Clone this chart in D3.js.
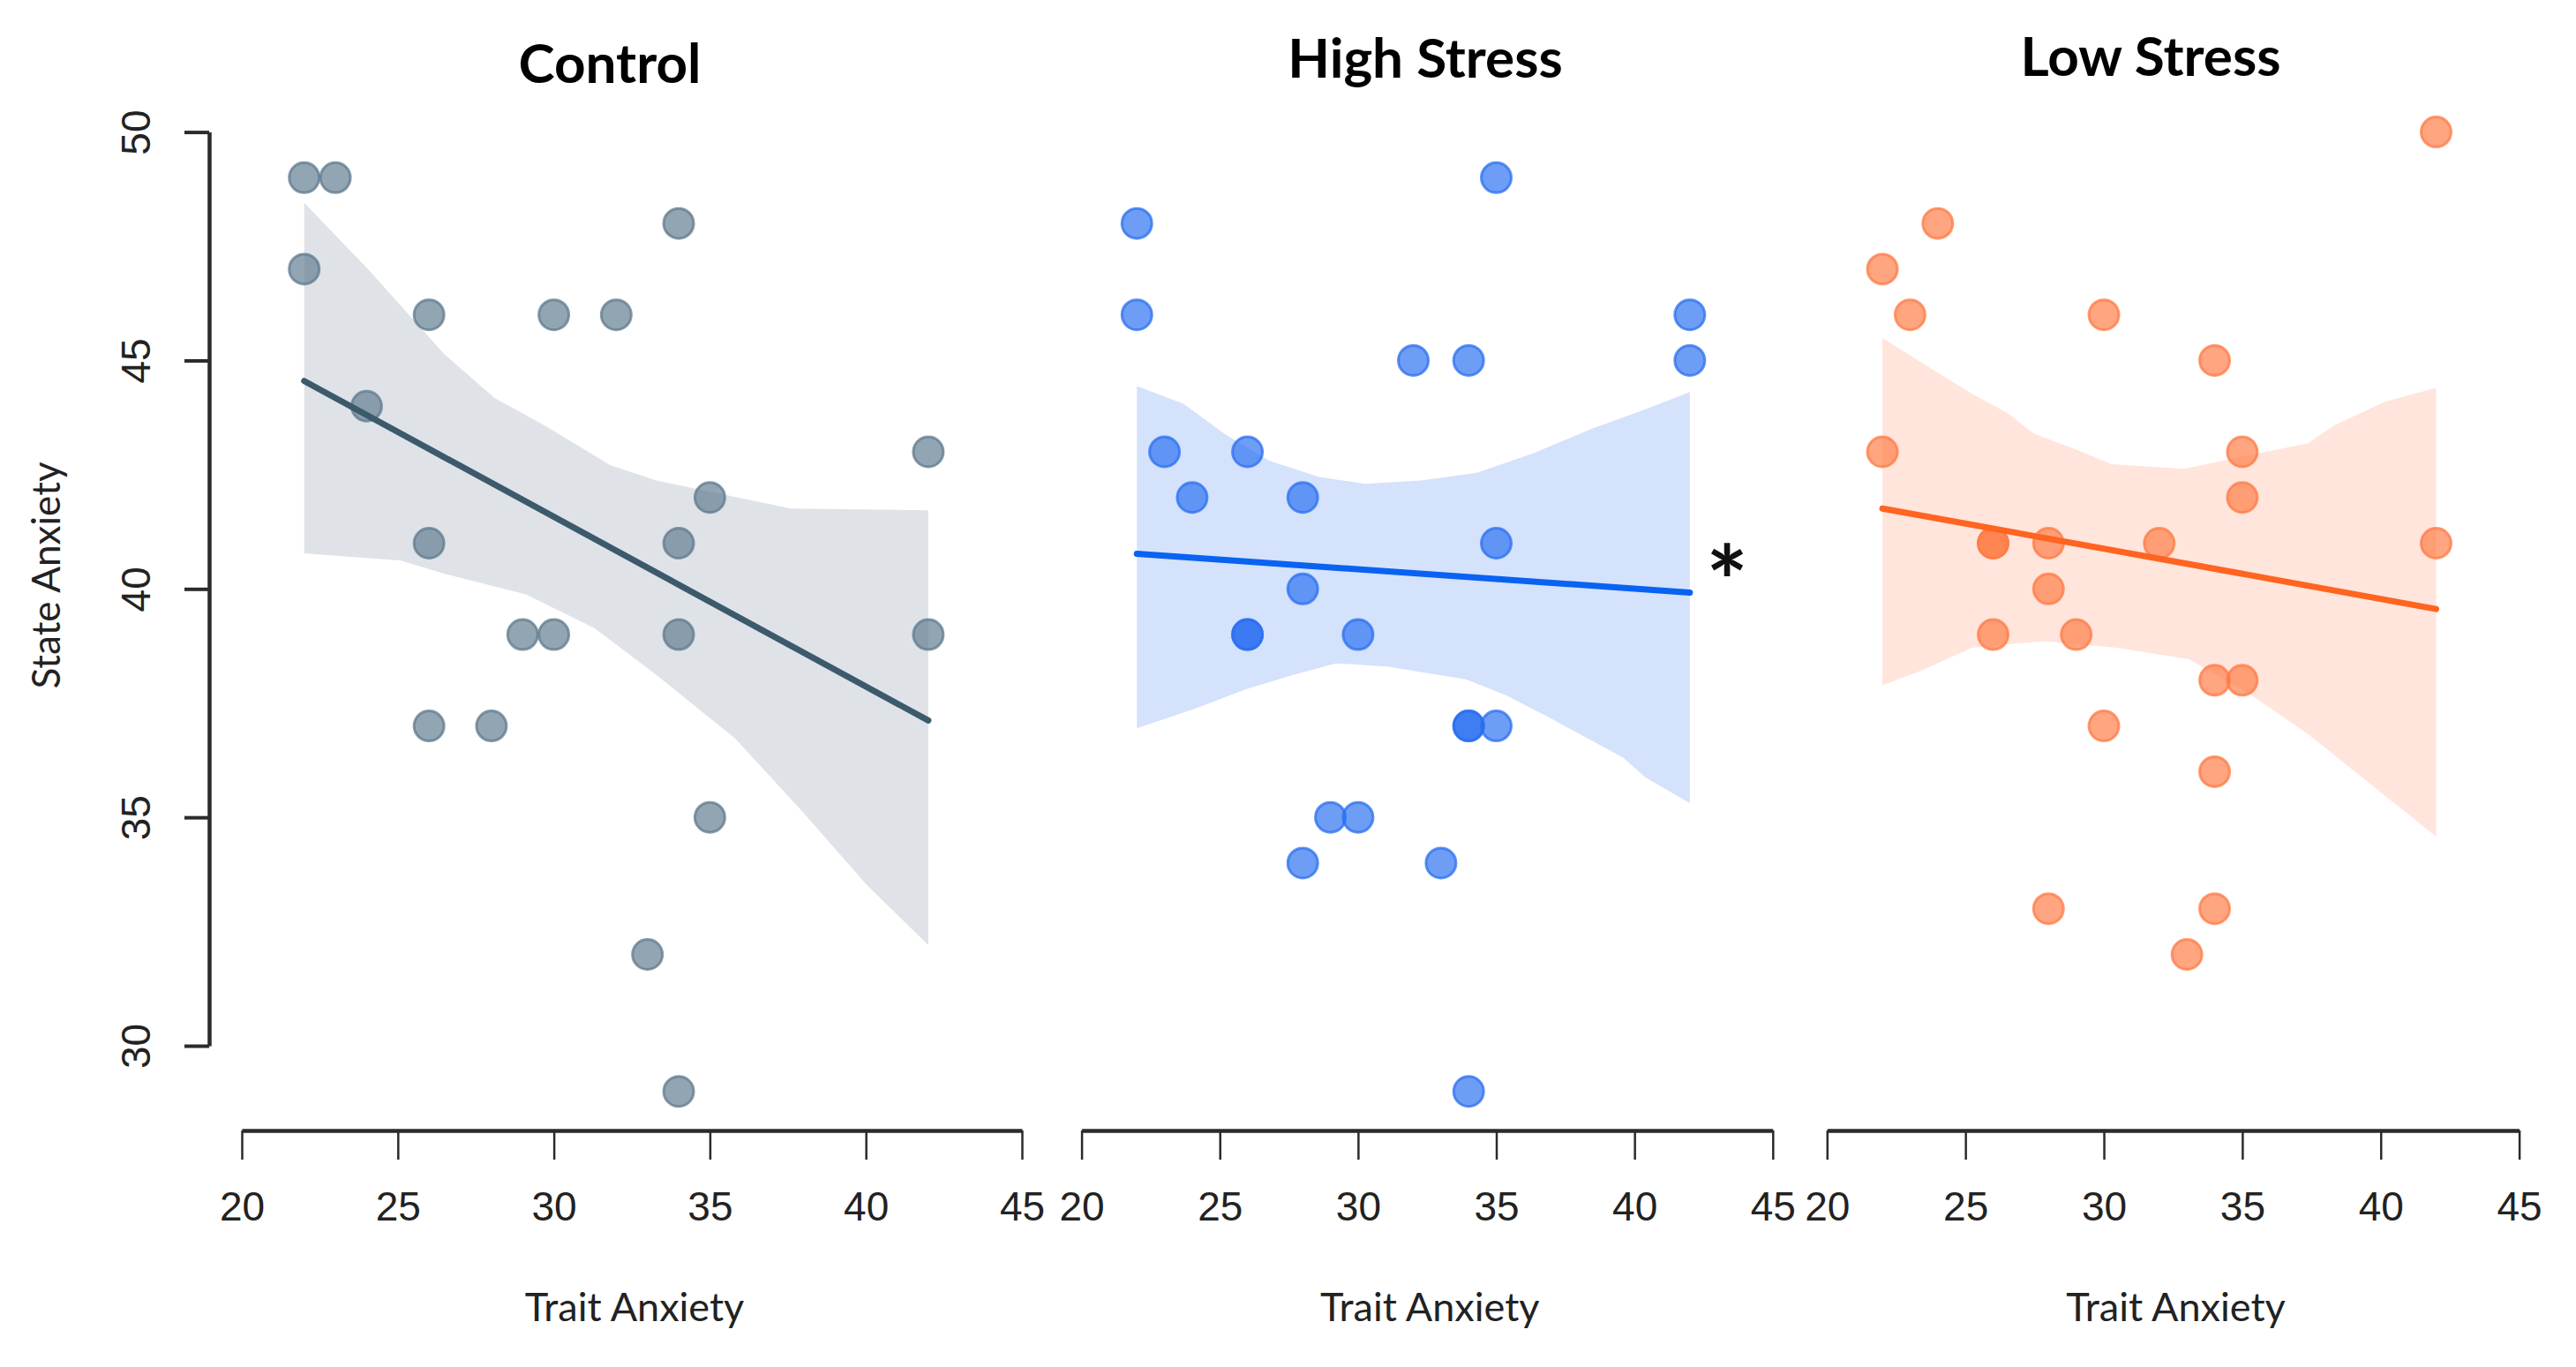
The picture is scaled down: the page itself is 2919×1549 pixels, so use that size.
<!DOCTYPE html>
<html>
<head>
<meta charset="utf-8">
<script src="https://cdn.jsdelivr.net/npm/d3@7"></script>
<style>
  html, body { margin: 0; padding: 0; background: #ffffff; }
  svg { display: block; font-family: Lato, "Open Sans", sans-serif; }
</style>
</head>
<body>
<div id="chart"></div>
<script>
/* Trait vs state anxiety – three regression panels */
(function () {

  /* ── Data ─────────────────────────────────────────────────────────────── */
  const groups = ['Control', 'High Stress', 'Low Stress'];
  const xTicks = [20, 25, 30, 35, 40, 45];
  const yTicks = [30, 35, 40, 45, 50];

  const controlTrait = [22, 23, 22, 26, 30, 32, 34, 24, 42, 35, 26, 34, 29, 30, 34, 42, 26, 28, 35, 33, 34];
  const controlState = [49, 49, 47, 46, 46, 46, 48, 44, 43, 42, 41, 41, 39, 39, 39, 39, 37, 37, 35, 32, 29];

  const highTrait = [35, 22, 22, 42, 32, 34, 42, 23, 26, 24, 28, 35, 28, 26, 26, 30, 34, 34, 35, 29, 30, 28, 33, 34];
  const highState = [49, 48, 46, 46, 45, 45, 45, 43, 43, 42, 42, 41, 40, 39, 39, 39, 37, 37, 37, 35, 35, 34, 34, 29];

  const lowTrait = [42, 24, 22, 23, 30, 34, 22, 35, 35, 26, 26, 28, 32, 42, 28, 26, 29, 34, 35, 30, 34, 28, 34, 33];
  const lowState = [50, 48, 47, 46, 46, 45, 43, 43, 42, 41, 41, 41, 41, 41, 40, 39, 39, 38, 38, 37, 36, 33, 33, 32];

  // fitted line end points (x = 22 and x = 42)
  const fitX = [22, 42];
  const controlFit = [44.55, 37.12];
  const highFit = [40.77, 39.92];
  const lowFit = [41.76, 39.56];

  // confidence band edges
  const controlUpperX = [22, 24, 26.5, 28.1, 29.7, 31.8, 33.3, 37.6, 42];
  const controlUpperY = [48.45, 47.03, 45.13, 44.18, 43.58, 42.71, 42.37, 41.76, 41.72];
  const controlLowerX = [22, 25.1, 26.5, 29.1, 31.3, 33.3, 35.8, 38.0, 40.0, 42];
  const controlLowerY = [40.78, 40.62, 40.33, 39.88, 39.14, 38.11, 36.73, 35.1, 33.54, 32.2];

  const highUpperX = [22, 23.7, 25.15, 26.8, 28.6, 30.24, 32.27, 34.3, 36.35, 38.4, 40.4, 42];
  const highUpperY = [44.44, 44.05, 43.4, 42.8, 42.45, 42.3, 42.37, 42.54, 42.97, 43.49, 43.93, 44.31];
  const highLowerX = [22, 24.1, 25.97, 27.6, 29.2, 31.06, 33.9, 35.33, 36.96, 39.6, 40.4, 42];
  const highLowerY = [36.95, 37.38, 37.81, 38.11, 38.37, 38.3, 38.02, 37.68, 37.17, 36.3, 35.87, 35.31];

  const lowUpperX = [22, 23.74, 25.24, 26.54, 27.47, 28.97, 30.28, 32.9, 34.57, 37.38, 38.31, 40.18, 42];
  const lowUpperY = [45.49, 44.83, 44.27, 43.84, 43.4, 43.06, 42.73, 42.63, 42.84, 43.19, 43.58, 44.1, 44.4];
  const lowLowerX = [22, 23.36, 25.24, 26.73, 27.85, 30.47, 33.08, 35.32, 37.38, 39.25, 42];
  const lowLowerY = [37.89, 38.2, 38.71, 38.8, 38.85, 38.71, 38.46, 37.68, 36.82, 35.91, 34.58];

  /* ── Layout constants ─────────────────────────────────────────────────── */
  const TW = 2919, TH = 1549;
  const Y_TOP = 149.6, Y_BOT = 1185;
  const X_AXIS_Y = 1281;
  const R = 17;

  const panels = [
    { name: groups[0], x0: 274, x1: 1158, titleX: 691, titleY: 94,
      trait: controlTrait, state: controlState, fit: controlFit,
      ux: controlUpperX, uy: controlUpperY, lx: controlLowerX, ly: controlLowerY,
      pt: '#5f7a8e', line: '#3c5a6c', band: '#dfe3e8' },
    { name: groups[1], x0: 1225.6, x1: 2008.8, titleX: 1615, titleY: 88,
      trait: highTrait, state: highState, fit: highFit,
      ux: highUpperX, uy: highUpperY, lx: highLowerX, ly: highLowerY,
      pt: '#2a6ff1', line: '#0a62f2', band: '#d4e2fb' },
    { name: groups[2], x0: 2070.3, x1: 2854.6, titleX: 2437, titleY: 86,
      trait: lowTrait, state: lowState, fit: lowFit,
      ux: lowUpperX, uy: lowUpperY, lx: lowLowerX, ly: lowLowerY,
      pt: '#ff7a44', line: '#ff6420', band: '#ffe5dc' }
  ];

  /* ── SVG setup ────────────────────────────────────────────────────────── */
  const svg = d3.select('#chart').append('svg')
    .attr('width', TW).attr('height', TH);

  const y = d3.scaleLinear().domain([30, 50]).range([Y_BOT, Y_TOP]);

  panels.forEach((p, i) => {
    const x = d3.scaleLinear().domain([20, 45]).range([p.x0, p.x1]);
    const g = svg.append('g');

    // band polygon: upper edge left→right, lower edge right→left
    const upper = p.ux.map((v, k) => [x(v), y(p.uy[k])]);
    const lower = p.lx.map((v, k) => [x(v), y(p.ly[k])]).reverse();
    g.append('path')
      .attr('d', d3.line()(upper.concat(lower)) + 'Z')
      .attr('fill', p.band);

    // points
    g.selectAll('circle')
      .data(p.trait.map((t, k) => ({ t, s: p.state[k] })))
      .join('circle')
      .attr('cx', d => x(d.t))
      .attr('cy', d => y(d.s))
      .attr('r', R)
      .attr('fill', p.pt)
      .attr('fill-opacity', 0.68)
      .attr('stroke', p.pt)
      .attr('stroke-opacity', 0.75)
      .attr('stroke-width', 3);

    // regression line
    g.append('line')
      .attr('x1', x(fitX[0])).attr('y1', y(p.fit[0]))
      .attr('x2', x(fitX[1])).attr('y2', y(p.fit[1]))
      .attr('stroke', p.line)
      .attr('stroke-width', 7)
      .attr('stroke-linecap', 'round');

    // x axis
    const ax = svg.append('g')
      .attr('transform', `translate(0,${X_AXIS_Y})`)
      .call(d3.axisBottom(x).tickValues(xTicks).tickSize(33).tickSizeOuter(0));
    ax.select('.domain').attr('stroke', '#2b2b2b').attr('stroke-width', 4.5);
    ax.selectAll('.tick line').attr('stroke', '#2b2b2b').attr('stroke-width', 2.5);
    ax.selectAll('.tick text')
      .attr('y', 102).attr('dy', 0)
      .attr('fill', '#222')
      .style('font-size', '46px');

    svg.append('text')
      .attr('x', (p.x0 + p.x1) / 2 + 3).attr('y', 1497)
      .attr('text-anchor', 'middle')
      .attr('fill', '#222')
      .style('font-size', '45px')
      .text('Trait Anxiety');

    // title
    svg.append('text')
      .attr('x', p.titleX).attr('y', p.titleY)
      .attr('text-anchor', 'middle')
      .attr('fill', '#000')
      .style('font-size', '62px')
      .style('font-weight', 'bold')
      .text(p.name);
  });

  /* ── Y axis (first panel only) ────────────────────────────────────────── */
  const ay = svg.append('g')
    .attr('transform', 'translate(237,0)')
    .call(d3.axisLeft(y).tickValues(yTicks).tickSize(28).tickSizeOuter(0));
  ay.select('.domain').attr('stroke', '#2b2b2b').attr('stroke-width', 4.5);
  ay.selectAll('.tick line').attr('stroke', '#2b2b2b').attr('stroke-width', 4);
  ay.selectAll('.tick text')
    .attr('transform', 'rotate(-90)')
    .attr('x', 0).attr('y', -67).attr('dy', 0)
    .attr('text-anchor', 'middle')
    .attr('fill', '#222')
    .style('font-size', '46px');

  svg.append('text')
    .attr('transform', 'translate(68,652) rotate(-90)')
    .attr('text-anchor', 'middle')
    .attr('fill', '#222')
    .style('font-size', '44px')
    .text('State Anxiety');

  // significance marker
  svg.append('text')
    .attr('x', 1957).attr('y', 700)
    .attr('text-anchor', 'middle')
    .attr('fill', '#111')
    .style('font-size', '112px')
    .style('font-weight', 'bold')
    .text('*');

})();
</script>
</body>
</html>
